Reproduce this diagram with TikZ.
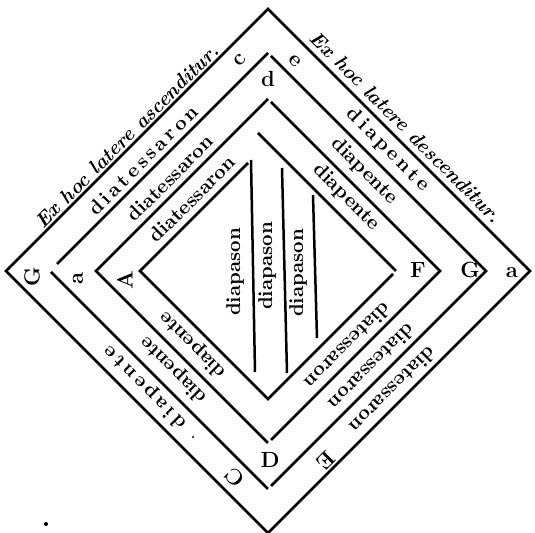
\documentclass[tikz,border=0pt]{standalone}
\usepackage{tikz}

\begin{document}
\begin{tikzpicture}[
    x=0.5pt, y=0.5pt,
    every node/.style={inner sep=1pt},
    rim/.style={line width=1.25pt, line join=miter},
    band/.style={font=\bfseries},
    side/.style={font=\bfseries\itshape},
    letter/.style={font=\fontsize{11}{13}\selectfont\bfseries}
]
    \useasboundingbox (-268,-262) rectangle (267,271);

    % Outer diamond
    \draw[rim] (0,262) -- (262,0) -- (0,-262) -- (-262,0) -- cycle;

    % Second diamond
    \draw[rim] (-211,7) -- (0,218);
    \draw[rim] (3,215) -- (218,0) -- (3,-215);
    \draw[rim] (-217,-1) -- (0,-218);

    % Third diamond
    \draw[rim] (0,-172) -- (-172,0) -- (0,172);
    \draw[rim] (3,169) -- (172,0) -- (3,-169);

    % Inner diamond
    \draw[rim] (-20,108) -- (-128,0) -- (0,-128) -- (125,-3);
    \draw[rim] (-10,138) -- (128,0);

    % Diapason strokes
    \draw[rim] (-17,111) -- (-13,-101);
    \draw[rim] (14,103) -- (19,-102);
    \draw[rim] (45,76) -- (49,-67);

    % Side titles
    \node[side, rotate=45] (ascend) at (-141,135) {Ex hoc latere ascenditur.};
    \node[side, rotate=-45] (descend) at (138,144) {Ex hoc latere descenditur.};

    % Upper left bands
    \node[band, rotate=45] (ulOne) at (-125,111) {d\,i\,a\,t\,e\,s\,s\,a\,r\,o\,n};
    \node[band, rotate=45] (ulTwo) at (-98,93) {diatessaron};
    \node[band, rotate=45] (ulThree) at (-76,72) {diatessaron};

    % Upper right bands
    \node[band, rotate=-45] (urOne) at (120,121) {d\,i\,a\,p\,e\,n\,t\,e};
    \node[band, rotate=-45] (urTwo) at (96,100) {diapente};
    \node[band, rotate=-45] (urThree) at (78,74) {diapente};

    % Lower left bands
    \node[band, rotate=135] (llOne) at (-123,-116) {d\,i\,a\,p\,e\,n\,t\,e};
    \node[band, rotate=135] (llTwo) at (-94,-99) {diapente};
    \node[band, rotate=135] (llThree) at (-75,-74) {diapente};

    % Lower right bands
    \node[band, rotate=-135] (lrOne) at (125,-119) {diatessaron};
    \node[band, rotate=-135] (lrTwo) at (104,-96) {diatessaron};
    \node[band, rotate=-135] (lrThree) at (80,-75) {diatessaron};

    % Diapason labels
    \node[band, rotate=90] (dpOne) at (-33,-1) {diapason};
    \node[band, rotate=90] (dpTwo) at (-1,5) {diapason};
    \node[band, rotate=90] (dpThree) at (30,-2) {diapason};

    % Letters at the corners
    \node[letter, rotate=45] (cTop) at (-28,211) {c};
    \node[letter, rotate=-45] (eTop) at (27,210) {e};
    \node[letter] (dTop) at (0,192) {d};
    \node[letter, rotate=90] (gLeft) at (-236,-6) {G};
    \node[letter, rotate=90] (aLeft) at (-190,-7) {a};
    \node[letter, rotate=90] (aInner) at (-143,-9) {A};
    \node[letter] (fRight) at (150,1) {F};
    \node[letter] (gRight) at (202,1) {G};
    \node[letter] (aRight) at (244,-2) {a};
    \node[letter] (dBottom) at (2,-189) {D};
    \node[letter, rotate=135] (cBottom) at (-33,-207) {C};
    \node[letter, rotate=-135] (eBottom) at (58,-190) {E};

    % Specks
    \fill (-222,-253) circle (2);
    \fill (-75,-166) circle (1.2);
\end{tikzpicture}
\end{document}
